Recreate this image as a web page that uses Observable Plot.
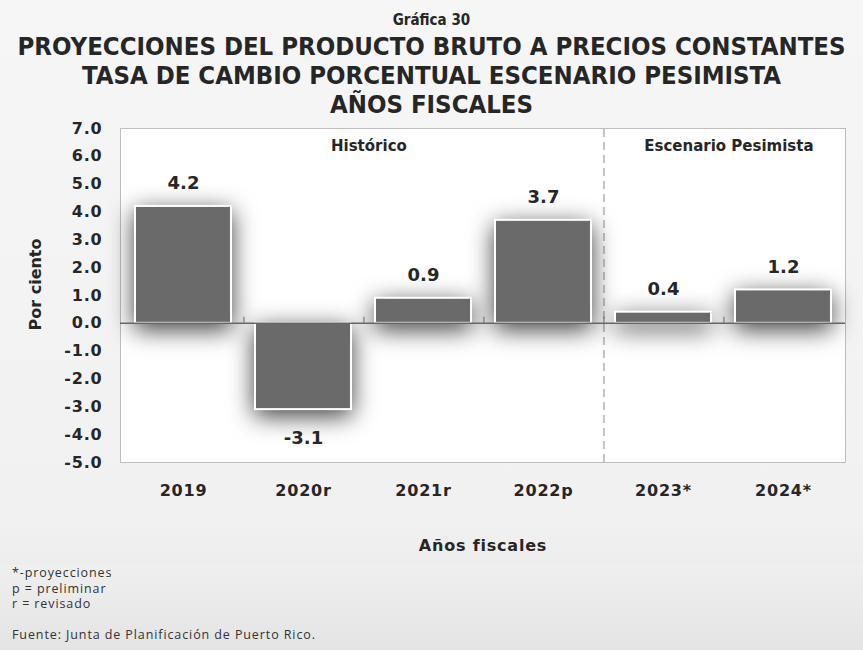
<!DOCTYPE html>
<html><head><meta charset="utf-8">
<script src="https://cdn.jsdelivr.net/npm/d3@7"></script>
<script src="https://cdn.jsdelivr.net/npm/@observablehq/plot@0.6"></script>
<style>
html,body{margin:0;padding:0;}
body{width:863px;height:650px;background:linear-gradient(#f6f6f6,#f1f1f1 80%,#e6e6e6);font-family:"DejaVu Sans",sans-serif;color:#262626;overflow:hidden;}
#title{height:115px;text-align:center;font-family:"DejaVu Sans Condensed","DejaVu Sans",sans-serif;font-weight:bold;color:#262626;}
#title .sub{font-size:15px;padding-top:11px;line-height:18px;}
#title .main{font-size:25.5px;line-height:29px;margin-top:3px;}
#foot{font-family:"Open Sans",sans-serif;font-size:12.5px;letter-spacing:0.9px;line-height:15.5px;color:#333;padding-left:12px;padding-top:0px;background:linear-gradient(#efefef,#e4e4e4);height:85px;}
</style></head>
<body>
<div id="title"><div class="sub">Gráfica 30</div>
<div class="main">PROYECCIONES DEL PRODUCTO BRUTO A PRECIOS CONSTANTES<br>TASA DE CAMBIO PORCENTUAL ESCENARIO PESIMISTA<br>AÑOS FISCALES</div></div>
<div id="chart"></div>
<div id="foot">*-proyecciones<br>p = preliminar<br>r = revisado<br><br>Fuente: Junta de Planificación de Puerto Rico.</div>
<script>
const categories = ["2019","2020r","2021r","2022p","2023*","2024*"];
const values = [4.2,-3.1,0.9,3.7,0.4,1.2];
const yTicks = [-5,-4,-3,-2,-1,0,1,2,3,4,5,6,7];
const sections = [{x:"2020r", label:"Histórico"},{x:"2023*", label:"Escenario Pesimista"}];
const data = categories.map((c,i)=>({cat:c, v:values[i]}));

const W = 863, ML = 120, MR = 18, PI = 0.2, PO = 0.1;
const step = (W-ML-MR)/(categories.length - PI + 2*PO);

const labelStyle = {fontSize:18, fontWeight:"bold", fill:"#262626", style:{letterSpacing:"1.5px"}};

const chart = Plot.plot({
  width: W, height: 450,
  marginLeft: ML, marginRight: MR, marginTop: 13, marginBottom: 103,
  style: {fontFamily: "'DejaVu Sans',sans-serif", background: "transparent", color:"#262626"},
  x: {domain: categories, paddingInner: PI, paddingOuter: PO},
  y: {domain: [-5,7]},
  marks: [
    Plot.frame({fill:"white", stroke:"#bdbdbd"}),
    Plot.ruleX(["2022p"], {dx: step/2, y1:-5, y2:7, stroke:"#c4c4c4", strokeWidth:2, strokeDasharray:"8,5"}),
    Plot.barY(data, {x:"cat", y:"v", fill:"#6a6a6a", stroke:"white", strokeWidth:2, className:"bars"}),
    Plot.ruleY([0], {stroke:"#666", strokeWidth:1.5}),
    Plot.ruleX(categories.slice(0,5), {dx: step/2, y1:0, y2:0.22, stroke:"#666"}),
    Plot.text(data.filter(d=>d.v>=0), {x:"cat", y:"v", text: d=>d.v.toFixed(1), dy: -23, ...labelStyle}),
    Plot.text(data.filter(d=>d.v<0), {x:"cat", y:"v", text: d=>d.v.toFixed(1), dy: 29, ...labelStyle}),
    Plot.text(sections, {x:"x", y:6.35, text:"label", dx: step/2 + 5, fontSize:15, fontWeight:"bold", fill:"#262626"}),
    Plot.text(["Por ciento"], {frameAnchor:"left", rotate:-90, textAnchor:"middle", dx:-85, dy:-11, fontSize:16, fontWeight:"bold", fill:"#262626", style:{letterSpacing:"0.6px"}}),
    Plot.axisY({ticks: yTicks, tickSize:0, tickPadding:18, tickFormat: d=>d.toFixed(1), fontSize:16, fontWeight:"bold", label:null}),
    Plot.axisX({tickSize:0, tickPadding:22, fontSize:16, fontWeight:"bold", label:"Años fiscales", labelAnchor:"center", labelOffset:88, labelArrow:"none"})
  ]
});
document.getElementById("chart").appendChild(chart);
chart.style.display = "block";
chart.querySelectorAll("g[aria-label='y-axis tick label'] text, g[aria-label='x-axis tick label'] text").forEach(t=>{t.style.letterSpacing="0.8px";});
chart.querySelectorAll("g[aria-label='x-axis label'] text").forEach(t=>{t.style.fontSize="16px";t.style.fontWeight="bold";t.style.letterSpacing="0.8px";});
chart.querySelectorAll(".bars rect, g.bars rect").forEach(r=>{r.style.filter="drop-shadow(0px 6px 12px rgba(0,0,0,0.75))";});
</script>
</body></html>
